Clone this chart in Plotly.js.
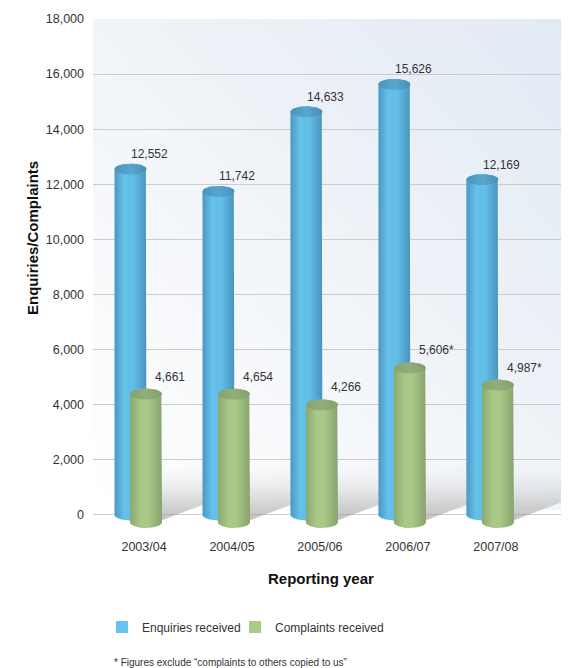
<!DOCTYPE html>
<html>
<head>
<meta charset="utf-8">
<script src="https://cdn.plot.ly/plotly-3.0.1.min.js"></script>
<style>
  html, body { margin: 0; padding: 0; background: #ffffff; }
  #chart { width: 587px; height: 668px; }
</style>
</head>
<body>
<div id="chart"></div>
<script>
// ---------------- DATA ----------------
const categories = ['2003/04', '2004/05', '2005/06', '2006/07', '2007/08'];
const enquiries = [12552, 11742, 14633, 15626, 12169];
const complaints = [4661, 4654, 4266, 5606, 4987];
const enquiryLabels = ['12,552', '11,742', '14,633', '15,626', '12,169'];
const complaintLabels = ['4,661', '4,654', '4,266', '5,606*', '4,987*'];
const yTickVals = [0, 2000, 4000, 6000, 8000, 10000, 12000, 14000, 16000, 18000];
const seriesNames = ['Enquiries received', 'Complaints received'];
const footnote = '* Figures exclude \u201ccomplaints to others copied to us\u201d';

// ---------------- GEOMETRY / STYLE ----------------
const W = 587, H = 668;
const M = { l: 93, r: 26, t: 19, b: 131 };
const plotW = W - M.l - M.r, plotH = H - M.t - M.b;
const xRange = [-0.58, 4.74];
const yRange = [-800, 18000];
const pxPerX = plotW / (xRange[1] - xRange[0]);
const pxPerY = plotH / (yRange[1] - yRange[0]);
const ux = px => px / pxPerX;      // px -> x data units
const uy = px => px / pxPerY;      // px -> y data units
const BLUE_OFF = ux(-13.5), GREEN_OFF = ux(2);
const RX = ux(16), RY = uy(5.5);
const GREEN_DEPTH = uy(7.5);
const N = 32;

function body(cx, yb, yt) {
  const x = [], y = [];
  for (let k = 0; k <= N; k++) { const t = Math.PI + Math.PI * k / N; x.push(cx + RX * Math.cos(t)); y.push(yb + RY * Math.sin(t)); }
  for (let k = 0; k <= N; k++) { const t = Math.PI * k / N; x.push(cx + RX * Math.cos(t)); y.push(yt + RY * Math.sin(t)); }
  x.push(x[0]); y.push(y[0]);
  return { x, y };
}
function cap(cx, yt) {
  const x = [], y = [];
  for (let k = 0; k <= 2 * N; k++) { const t = 2 * Math.PI * k / (2 * N); x.push(cx + RX * Math.cos(t)); y.push(yt + RY * Math.sin(t)); }
  return { x, y };
}

const blueBody = [[0, '#4b98c1'], [0.3, '#66c1ea'], [0.6, '#62bce6'], [1, '#4894bd']];
const blueCap = [[0, '#4a93bb'], [0.5, '#58a6ce'], [1, '#4890b8']];
const greenBody = [[0, '#8ba870'], [0.35, '#a9ca89'], [0.6, '#a6c686'], [1, '#87a36d']];
const greenCap = [[0, '#87a26c'], [0.5, '#93ae78'], [1, '#859f6a']];

const traces = [];
const base = { type: 'scatter', mode: 'lines', fill: 'toself', line: { width: 0, color: 'rgba(0,0,0,0)' }, hoverinfo: 'skip', showlegend: false };

// shadows (cast behind each green cylinder, toward the upper right)
complaints.forEach((v, i) => {
  const cx = i + GREEN_OFF, yb = -GREEN_DEPTH;
  const p = [[-6, 6], [100, -34], [100, -66], [0, -48]];
  const xs = p.map(q => cx + ux(q[0])); const ys = p.map(q => yb - uy(q[1]));
  xs.push(xs[0]); ys.push(ys[0]);
  traces.push(Object.assign({}, base, { x: xs, y: ys,
    fillgradient: { type: 'vertical', colorscale: [[0, 'rgba(130,130,130,0.65)'], [0.45, 'rgba(190,190,190,0.45)'], [1, 'rgba(255,255,255,0)']] } }));
});
// blue cylinders
enquiries.forEach((v, i) => {
  const cx = i + BLUE_OFF;
  const b = body(cx, 0, v);
  traces.push(Object.assign({}, base, { x: b.x, y: b.y, fillgradient: { type: 'horizontal', colorscale: blueBody } }));
  const c = cap(cx, v);
  traces.push(Object.assign({}, base, { x: c.x, y: c.y, fillgradient: { type: 'horizontal', colorscale: blueCap } }));
});
// green cylinders
complaints.forEach((v, i) => {
  const cx = i + GREEN_OFF;
  const b = body(cx, -GREEN_DEPTH, v - GREEN_DEPTH);
  traces.push(Object.assign({}, base, { x: b.x, y: b.y, fillgradient: { type: 'horizontal', colorscale: greenBody } }));
  const c = cap(cx, v - GREEN_DEPTH);
  traces.push(Object.assign({}, base, { x: c.x, y: c.y, fillgradient: { type: 'horizontal', colorscale: greenCap } }));
});
// legend entries
traces.push({ type: 'bar', x: [null], y: [null], name: seriesNames[0], marker: { color: '#66c3ed' }, hoverinfo: 'skip', legend: 'legend' });
traces.push({ type: 'bar', x: [null], y: [null], name: seriesNames[1], marker: { color: '#a9cc88' }, hoverinfo: 'skip', legend: 'legend2' });

const font = 'Liberation Sans, Arial, Helvetica, sans-serif';
const pxX = px => (px - M.l) / plotW;
const pxY = py => (H - M.b - py) / plotH;

const annotations = [];
enquiries.forEach((v, i) => annotations.push({ x: i + BLUE_OFF, y: v, xref: 'x', yref: 'y', text: enquiryLabels[i], showarrow: false,
  xanchor: 'left', yanchor: 'middle', xshift: -1.5, yshift: 15, font: { family: font, size: 12, color: '#333333' } }));
complaints.forEach((v, i) => annotations.push({ x: i + GREEN_OFF, y: v, xref: 'x', yref: 'y', text: complaintLabels[i], showarrow: false,
  xanchor: 'left', yanchor: 'middle', xshift: 7, yshift: 10, font: { family: font, size: 12, color: '#333333' } }));
annotations.push({ x: pxX(321), y: pxY(578), xref: 'paper', yref: 'paper', text: '<b>Reporting year</b>', showarrow: false,
  xanchor: 'center', yanchor: 'middle', font: { family: font, size: 15, color: '#111111' } });
annotations.push({ x: pxX(32), y: pxY(238), xref: 'paper', yref: 'paper', text: '<b>Enquiries/Complaints</b>', showarrow: false, textangle: -90,
  xanchor: 'center', yanchor: 'middle', font: { family: font, size: 15, color: '#111111' } });
annotations.push({ x: pxX(112), y: pxY(662), xref: 'paper', yref: 'paper', text: footnote, showarrow: false,
  xanchor: 'left', yanchor: 'middle', font: { family: font, size: 10, color: '#333333' } });

const svg = '<svg xmlns="http://www.w3.org/2000/svg" width="100" height="100" viewBox="0 0 100 100" preserveAspectRatio="none">' +
  '<defs><linearGradient id="g" x1="0" y1="1" x2="1" y2="0"><stop offset="0" stop-color="#ffffff"/><stop offset="0.45" stop-color="#f2f5f9"/>' +
  '<stop offset="1" stop-color="#e2eaf4"/></linearGradient></defs><rect width="100" height="100" fill="url(#g)"/></svg>';

const legendFont = { family: font, size: 12, color: '#333333' };
const layout = {
  width: W, height: H,
  margin: M,
  paper_bgcolor: '#ffffff',
  plot_bgcolor: 'rgba(0,0,0,0)',
  showlegend: true,
  barmode: 'overlay',
  xaxis: { range: xRange, tickmode: 'array', tickvals: categories.map((c, i) => i), ticktext: categories,
    showgrid: false, zeroline: false, showline: false, ticks: '', fixedrange: true,
    tickfont: { family: font, size: 12.5, color: '#333333' } },
  yaxis: { range: yRange, tickmode: 'array', tickvals: yTickVals, tickformat: ',', showgrid: true, gridcolor: '#cccccc', gridwidth: 1,
    zeroline: false, showline: false, ticks: '', ticklabelstandoff: 8, fixedrange: true,
    tickfont: { family: font, size: 12.5, color: '#333333' } },
  legend: { orientation: 'h', x: pxX(102), y: pxY(627), xanchor: 'left', yanchor: 'middle',
    font: legendFont, bgcolor: 'rgba(0,0,0,0)' },
  legend2: { orientation: 'h', x: pxX(235), y: pxY(627), xanchor: 'left', yanchor: 'middle',
    font: legendFont, bgcolor: 'rgba(0,0,0,0)' },
  images: [{ source: 'data:image/svg+xml;charset=utf-8,' + encodeURIComponent(svg), xref: 'paper', yref: 'paper',
    x: 0, y: 1, sizex: 1, sizey: 1 - pxY(510), sizing: 'stretch', xanchor: 'left', yanchor: 'top', layer: 'below' }],
  annotations: annotations
};

Plotly.newPlot('chart', traces, layout, { displayModeBar: false, staticPlot: true });
</script>
</body>
</html>
